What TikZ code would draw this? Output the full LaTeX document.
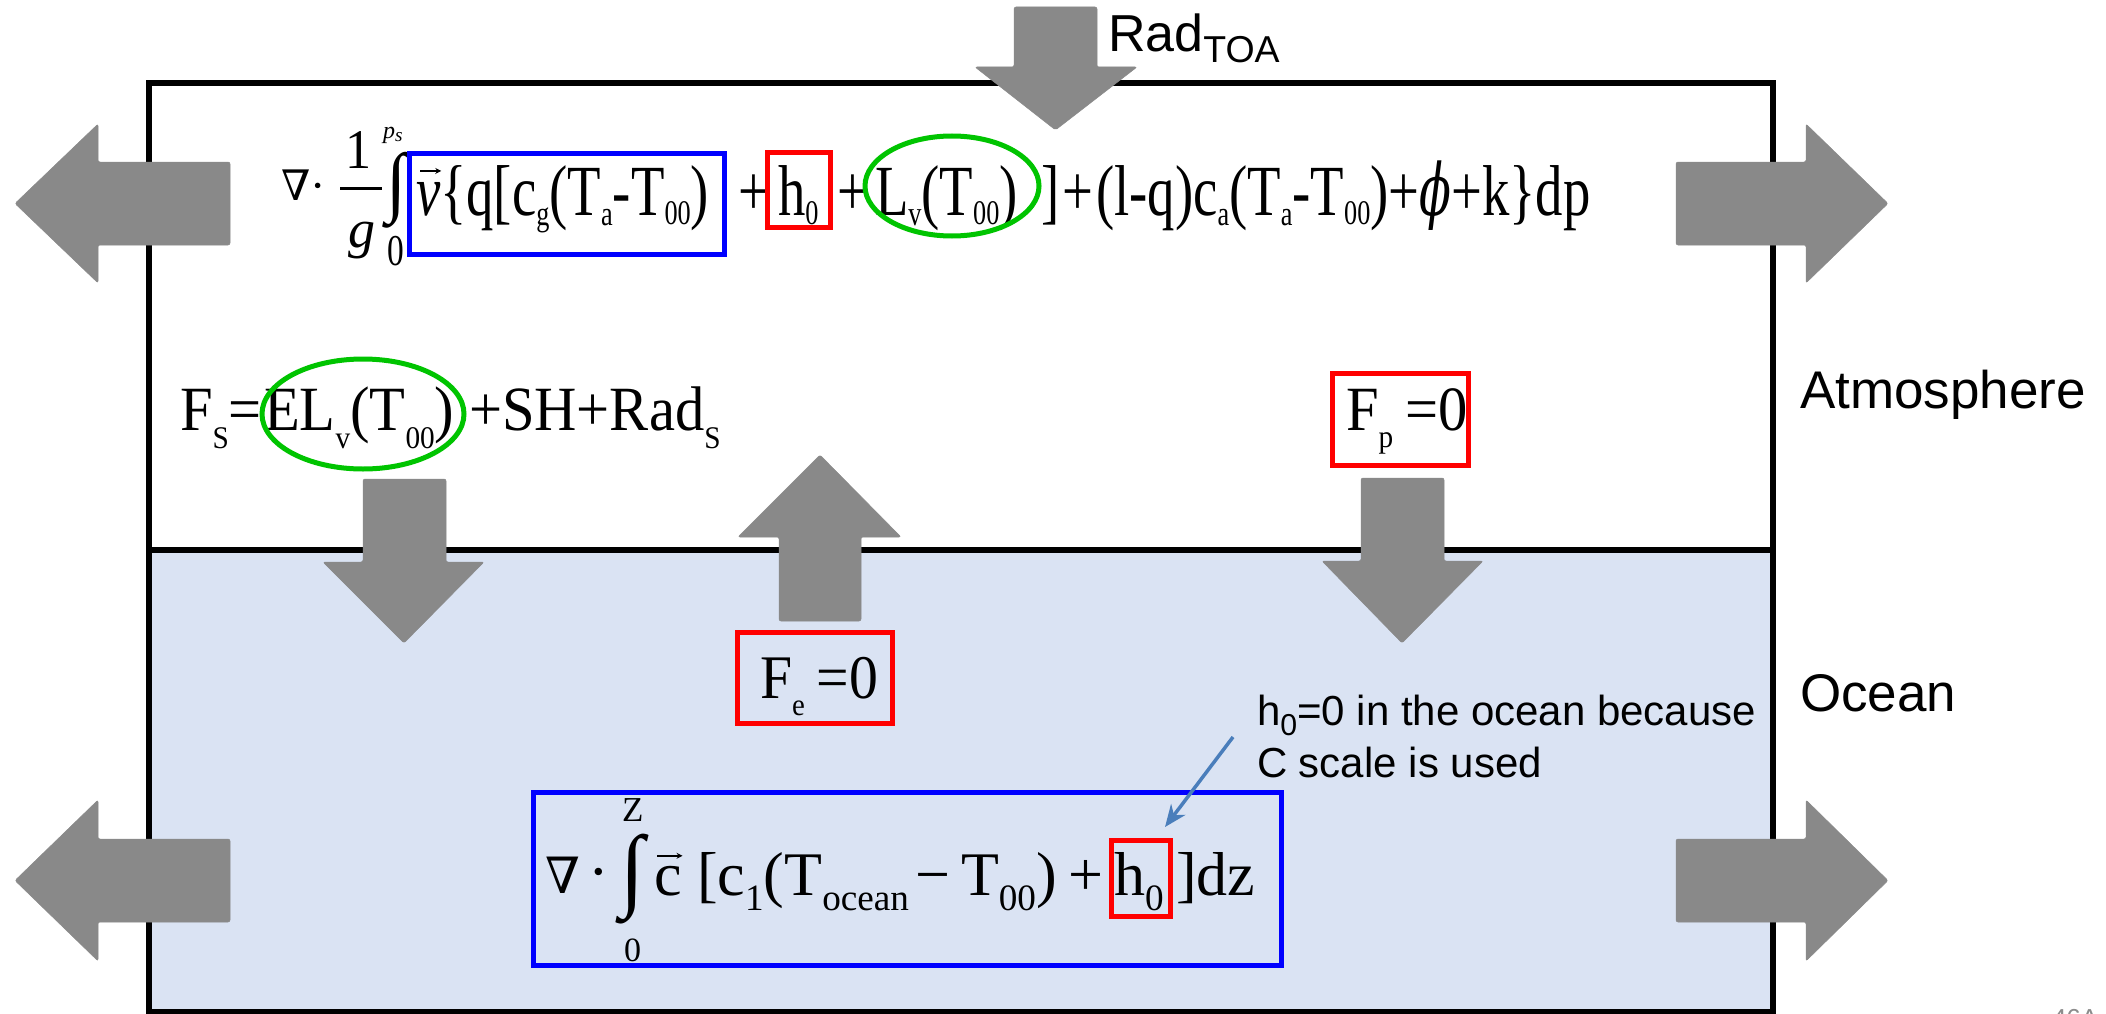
\documentclass[tikz,border=0pt]{standalone}
\usepackage{fontspec}
\usepackage{graphicx}
\setmainfont{Liberation Serif}
\newfontfamily\eqA[FakeStretch=0.76]{Liberation Serif}
\newfontfamily\eqB[FakeStretch=0.93]{Liberation Serif}
\newfontfamily\sansf{Liberation Sans}
\newfontfamily\dvs{DejaVu Serif}
\usetikzlibrary{shapes.geometric,arrows.meta}
\definecolor{arrgray}{HTML}{898989}
\definecolor{oceanblue}{HTML}{DAE3F3}
\definecolor{boxblue}{HTML}{0000FF}
\definecolor{boxred}{HTML}{FF0000}
\definecolor{circgreen}{HTML}{00C400}
\definecolor{annblue}{HTML}{4A7EBB}
\definecolor{pagegray}{HTML}{8C8C8C}
\newcommand\fsz[1]{\fontsize{#1pt}{#1pt}\selectfont}
\newcommand\subsc[3]{\raisebox{-#2pt}{\scalebox{#1}{#3}}}
\begin{document}
\begin{tikzpicture}[x=1pt,y=-1pt,
  blockarr/.style={fill=arrgray, draw=arrgray, line width=0.5pt, rounded corners=2pt},
  txt/.style={inner sep=0pt, outer sep=0pt, anchor=base west},
  ctr/.style={inner sep=0pt, outer sep=0pt, anchor=center},
  hlbox/.style={draw=#1, line width=5pt, inner sep=0pt, rectangle},
  hlcirc/.style={draw=circgreen, line width=5pt, inner sep=0pt, ellipse},
  frameline/.style={draw=black, line width=5.5pt},
  vecarrow/.style={draw=black, line width=1.6pt, -{Stealth[length=6pt,width=6pt]}},
  annarrow/.style={draw=annblue, line width=3.5pt, -{Stealth[length=22pt,width=18pt]}}]
\useasboundingbox (0,0) rectangle (2106,1014);
\fill[white] (0,0) rectangle (2106,1014);

% ocean layer and frame
\fill[oceanblue] (149,550) rectangle (1773,1012);
\draw[frameline] (149,83) rectangle (1773,1012);
\draw[frameline] (149,550) -- (1773,550);

% block arrows
\path[blockarr] (230,162) -- (98,162) -- (98,124) -- (15,203.5) -- (98,283) -- (98,245) -- (230,245) -- cycle;
\path[blockarr] (1676,162) -- (1806,162) -- (1806,124) -- (1888,203.5) -- (1806,283) -- (1806,245) -- (1676,245) -- cycle;
\path[blockarr] (230,839) -- (98,839) -- (98,800) -- (15,880.5) -- (98,961) -- (98,922) -- (230,922) -- cycle;
\path[blockarr] (1676,839) -- (1806,839) -- (1806,800) -- (1888,880.5) -- (1806,961) -- (1806,922) -- (1676,922) -- cycle;
\path[blockarr] (1014,7) -- (1097,7) -- (1097,67) -- (1137,67) -- (1055.5,130) -- (975,67) -- (1014,67) -- cycle;
\path[blockarr] (363,479) -- (446,479) -- (446,562) -- (484,562) -- (404,643) -- (323,562) -- (363,562) -- cycle;
\path[blockarr] (779,621) -- (861,621) -- (861,537) -- (901,537) -- (820,455) -- (738,537) -- (779,537) -- cycle;
\path[blockarr] (1361,478) -- (1444,478) -- (1444,561) -- (1483,561) -- (1402,643) -- (1322,561) -- (1361,561) -- cycle;

% labels
\node[txt] (radtoa) at (1108,52) {\sansf\fsz{52}Rad\subsc{0.72}{11}{TOA}};
\node[txt] (atmo) at (1800,408) {\sansf\fsz{53}Atmosphere};
\node[txt] (ocean) at (1800,711) {\sansf\fsz{53}Ocean};

% atmosphere equation
\node[txt] (e1nab) at (281,200) {\dvs\fsz{42}∇\kern1pt·};
\node[inner sep=0pt, anchor=base] (e1num) at (359,168) {\eqB\fsz{56}1};
\node[ctr] (e1bar) at (361,188) {\rule{42pt}{3pt}};
\node[inner sep=0pt, anchor=base] (e1den) at (362,247) {\fsz{54}\textit{g}};
\node[ctr] (e1int) at (396,190) {\resizebox*{20pt}{76pt}{\fsz{60}∫}};
\node[txt] (e1up) at (383,139) {\fsz{24}\textit{p}\subsc{0.8}{3}{\textit{s}}};
\node[inner sep=0pt, anchor=base] (e1lo) at (396,265) {\eqA\fsz{44}0};
\node[txt] (e1v) at (416,215) {\eqA\fsz{72}\textit{v}};
\draw[vecarrow] ([shift={(4,-11)}]e1v.north west) -- ([shift={(1,-11)}]e1v.north east);
\node[txt] (e1a) at (e1v.base east) {\eqA\fsz{72}\{q[c\subsc{0.48}{10}{g}(T\subsc{0.48}{10}{a}-T\subsc{0.48}{9}{00})};
\node[txt] (e1b) at (738,215) {\eqA\fsz{72}+};
\node[txt] (e1c) at (778,215) {\eqA\fsz{72}h\subsc{0.48}{9}{0}};
\node[txt] (e1d) at (837,215) {\eqA\fsz{72}+};
\node[txt] (e1e) at (875,215) {\eqA\fsz{72}L\subsc{0.48}{10}{v}(T\subsc{0.48}{9}{00})};
\node[txt] (e1f) at (1041,215) {\eqA\fsz{72}]\kern3pt+\kern3pt(l-q)c\subsc{0.48}{10}{a}(T\subsc{0.48}{10}{a}-T\subsc{0.48}{9}{00})+{\dvs\itshape\scalebox{0.65}[1]{ϕ}}+k\}dp};

\node[hlbox=boxblue, minimum width=315pt, minimum height=101pt] (bA) at (566.5,204) {};
\node[hlbox=boxred, minimum width=63pt, minimum height=75pt] (rA) at (799,190) {};
\node[hlcirc, minimum width=174pt, minimum height=100pt] (gA) at (952,186) {};

% surface flux line
\node[txt] (r2a) at (180,430) {\eqB\fsz{63}F\subsc{0.5}{18}{S}=};
\node[txt] (r2b) at (264,430) {\eqB\fsz{63}EL\subsc{0.5}{18}{v}(T\subsc{0.5}{18}{00})};
\node[txt] (r2c) at (469,430) {\eqB\fsz{63}+SH+Rad\subsc{0.5}{18}{S}};
\node[hlcirc, minimum width=202pt, minimum height=110pt] (gB) at (363,414) {};

\node[txt] (fp) at (1346,430) {\eqB\fsz{63}F\subsc{0.5}{17}{p}\kern12pt=0};
\node[hlbox=boxred, minimum width=136pt, minimum height=92pt] (rFp) at (1400.5,419.5) {};

\node[txt] (fe) at (760,698) {\eqB\fsz{62}F\subsc{0.5}{17}{e}\kern12pt=0};
\node[hlbox=boxred, minimum width=155pt, minimum height=91pt] (rFe) at (815,678) {};

% ocean equation
\node[txt] (onab) at (545,893) {\dvs\fsz{50}∇};
\node[ctr] (odot) at (599,880) {\fsz{62}·};
\node[ctr] (oint) at (632,879) {\resizebox*{24pt}{90pt}{\fsz{60}∫}};
\node[txt] (oZ) at (622,821) {\fsz{35}Z};
\node[txt] (o0) at (624,961) {\fsz{34}0};
\node[txt] (oc) at (654,895) {\fsz{62}c};
\draw[vecarrow] ([shift={(3,-10)}]oc.north west) -- ([shift={(1,-10)}]oc.north east);
\node[txt] (obr) at (697,895) {\fsz{62}[c\subsc{0.6}{15}{1}(T\subsc{0.6}{15}{ocean}};
\node[txt] (omin) at (915,895) {\fsz{62}−};
\node[txt] (oT) at (961,895) {\fsz{62}T\subsc{0.6}{15}{00})};
\node[txt] (oplus) at (1068,895) {\fsz{62}+};
\node[txt] (oh) at (1114,895) {\fsz{62}h\subsc{0.6}{15}{0}};
\node[txt] (odz) at (1176,895) {\fsz{62}]dz};
\node[hlbox=boxblue, minimum width=748pt, minimum height=173pt] (bO) at (907.5,879) {};
\node[hlbox=boxred, minimum width=59pt, minimum height=76pt] (rO) at (1141,878.5) {};

% annotation
\node[txt] (ann1) at (1257,725) {\sansf\fsz{42}h\subsc{0.72}{10}{0}=0 in the ocean because};
\node[txt] (ann2) at (1257,777) {\sansf\fsz{42}C scale is used};
\coordinate (annS) at (1233,737);
\coordinate (annE) at (1165,827);
\draw[annarrow] (annS) -- (annE);

% page number, cut off at the lower edge
\begin{scope}
\clip (0,0) rectangle (2106,1014);
\node[txt] (pgnum) at (2052,1027) {\sansf\fsz{26}\color{pagegray}46A};
\end{scope}
\end{tikzpicture}
\end{document}
